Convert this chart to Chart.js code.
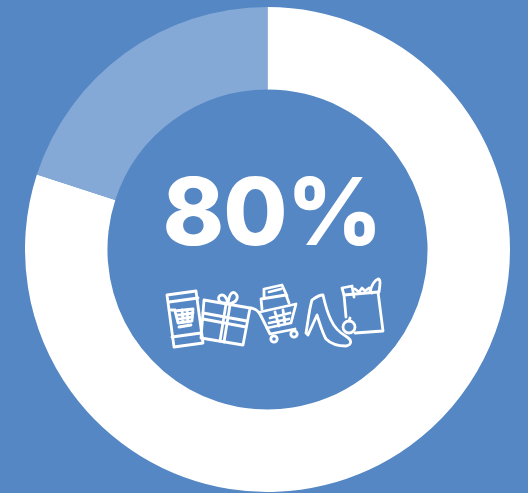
<!DOCTYPE html>
<html>
<head>
<meta charset="utf-8">
<title>80%</title>
<script src="https://cdn.jsdelivr.net/npm/chart.js@4"></script>
<style>
  html, body { margin:0; padding:0; width:528px; height:493px; overflow:hidden; background:#5487c4; }
  #wrap { position:absolute; left:25px; top:7px; width:485px; height:485px; }
  #pct { position:absolute; left:8px; width:528px; top:151px; text-align:center; color:#fff;
         font:800 93px/120px Inter, sans-serif; letter-spacing:-1px; }
  #icons { position:absolute; left:0; top:0; }
  #icons * { fill:none; stroke:#fff; stroke-width:2.8; stroke-linejoin:round; stroke-linecap:round; }
</style>
</head>
<body>
<div id="wrap"><canvas id="ring" width="485" height="485"></canvas></div>
<div id="pct">80%</div>
<svg id="icons" width="528" height="493">
  <!-- phone -->
  <path d="M167 295L196 291L203 343L174 347Z"/>
  <path d="M169 302L198 298M172 337L201 333" stroke-width="2"/>
  <path d="M175 311L193 309L192 321L178 323Z" stroke-width="2"/>
  <path d="M171 310L175 310M179 327L191 325" stroke-width="2"/>
  <path d="M178 315L193 313M178 319L192 317M182 310L183 322M187 310L188 322" stroke-width="1.4"/>
  <!-- gift -->
  <path d="M204 300L250 308L243 345L201 338Z"/>
  <path d="M203 313L247 321M203 319L246 327M226 304L220 341M230 305L224 342" stroke-width="2.2"/>
  <path d="M225 303C217 303 217 295 222 295C226 295 227 300 228 303C229 296 231 291 235 293C239 296 238 302 229 304"/>
  <!-- shopping cart -->
  <path d="M251 308C257 309 259 312 261 316L270 334L295 329"/>
  <path d="M260 312L296 304L291 323L267 328"/>
  <path d="M270 318L290 313M269 323L289 319M275 312L279 326M283 310L285 324" stroke-width="2"/>
  <circle cx="274" cy="339" r="3.2"/><circle cx="294" cy="334" r="3.2"/>
  <path d="M262 309L261 299L286 295L289 303M264 298L264 289L282 285L287 296"/>
  <path d="M269 292L281 289" stroke-width="2"/>
  <!-- shoe -->
  <path d="M312 300C316 297 320 295 323 295C325 304 328 314 331 320C334 327 340 333 347 337C352 340 352 345 346 346C338 346 331 344 326 339C322 332 320 324 317 315L308 335L306 333C308 322 309 310 312 300Z"/>
  <!-- grocery bag -->
  <path d="M344 295L378 292L383 331L355 333M344 295L346 317"/>
  <path d="M342 288L352 286L354 297M342 288L344 295M355 289L359 292L362 288L365 291L369 288L372 293"/>
  <path d="M370 291C372 285 375 280 378 279C381 279 380 285 379 292"/>
  <!-- apple -->
  <circle cx="349" cy="327" r="6"/>
  <path d="M349 321L350 318"/>
</svg>
<script>
const categories = ["Yes", "No"];
const shareValues = [80, 20];
const sliceColors = ["#ffffff", "#85a9d7"];

new Chart(document.getElementById("ring"), {
  type: "doughnut",
  data: {
    labels: categories,
    datasets: [{
      data: shareValues,
      backgroundColor: sliceColors,
      borderWidth: 0
    }]
  },
  options: {
    responsive: false,
    animation: false,
    cutout: "66%",
    layout: { padding: 0 },
    plugins: { legend: { display: false }, tooltip: { enabled: false } }
  }
});
</script>
</body>
</html>
